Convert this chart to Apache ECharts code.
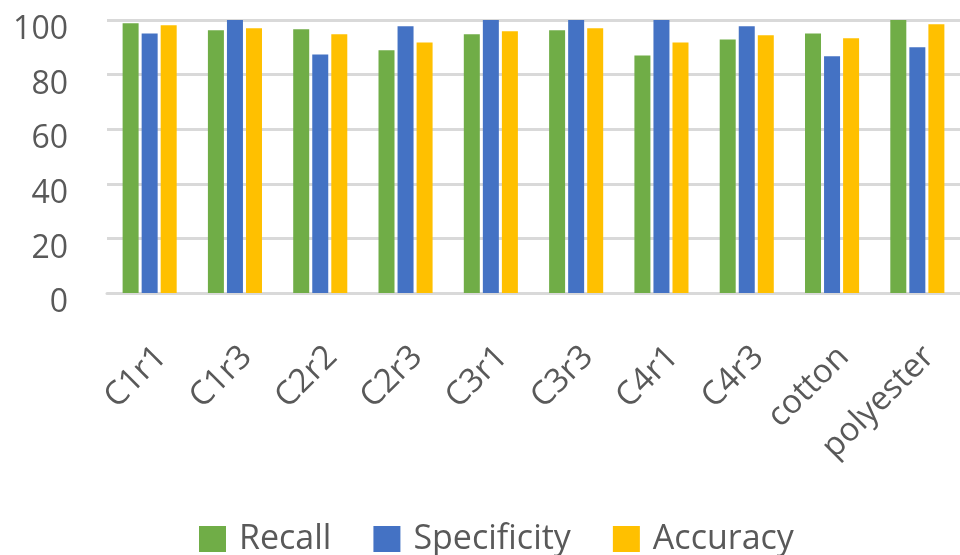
<!DOCTYPE html>
<html>
<head>
<meta charset="utf-8">
<script src="https://cdn.jsdelivr.net/npm/echarts@6/dist/echarts.min.js"></script>
<style>
  html, body { margin: 0; padding: 0; background: #fff; }
  #chart { width: 960px; height: 555px; }
</style>
</head>
<body>
<div id="chart"></div>
<script>
// Classification results per sample
const categories = ['C1r1', 'C1r3', 'C2r2', 'C2r3', 'C3r1', 'C3r3', 'C4r1', 'C4r3', 'cotton', 'polyester'];
const recall      = [98.8, 96.2, 96.6, 88.9, 94.8, 96.2, 87.0, 92.9, 95.1, 100];
const specificity = [95.1, 100, 87.4, 97.7, 100, 100, 100, 97.7, 86.7, 90.0];
const accuracy    = [98.1, 97.0, 94.8, 91.8, 95.9, 97.0, 91.8, 94.4, 93.3, 98.4];
const yTicks = [0, 20, 40, 60, 80, 100];

const FONT = '"Open Sans", "Noto Sans", sans-serif';
const TEXT = '#595959';
const GRID = '#d9d9d9';

const chart = echarts.init(document.getElementById('chart'));

function barSeries(name, data, color) {
  return {
    name: name,
    type: 'bar',
    data: data,
    barWidth: 16,
    barGap: '19%',
    itemStyle: { color: color }
  };
}

chart.setOption({
  animation: false,
  grid: { left: 107, top: 20, width: 860, height: 273, containLabel: false },
  xAxis: {
    type: 'category',
    data: categories,
    axisLine: { lineStyle: { color: GRID, width: 3 } },
    axisTick: { show: false },
    axisLabel: {
      rotate: 45,
      margin: 47,
      verticalAlign: 'top',
      fontFamily: FONT,
      fontSize: 33,
      color: TEXT,
      interval: 0
    }
  },
  yAxis: {
    type: 'value',
    min: yTicks[0],
    max: yTicks[yTicks.length - 1],
    interval: 20,
    axisLine: { show: false },
    axisTick: { show: false },
    splitLine: { lineStyle: { color: GRID, width: 3 } },
    axisLabel: {
      margin: 39,
      fontFamily: FONT,
      fontSize: 32,
      color: TEXT,
      verticalAlign: 'top',
      lineHeight: 20
    }
  },
  legend: {
    left: 199,
    top: 522,
    padding: 0,
    itemWidth: 27,
    itemHeight: 26,
    itemGap: 42,
    icon: 'rect',
    textStyle: { fontFamily: FONT, fontSize: 34, color: TEXT, padding: [0, 0, 0, 8] }
  },
  series: [
    barSeries('Recall', recall, '#70ad47'),
    barSeries('Specificity', specificity, '#4472c4'),
    barSeries('Accuracy', accuracy, '#ffc000')
  ]
});
</script>
</body>
</html>
